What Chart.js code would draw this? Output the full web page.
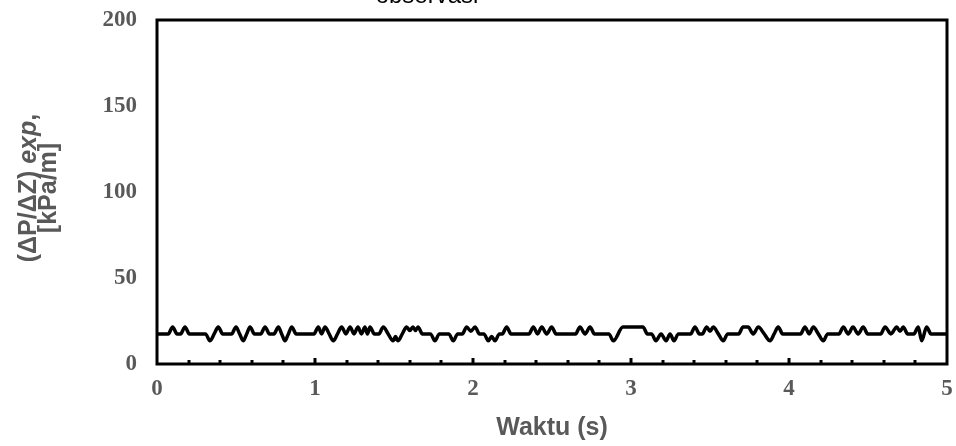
<!DOCTYPE html>
<html><head><meta charset="utf-8">
<script src="https://cdn.jsdelivr.net/npm/chart.js@4/dist/chart.umd.min.js"></script>
<style>html,body{margin:0;padding:0;background:#fff}#wrap{width:956px;height:446px;position:relative;overflow:hidden}</style>
</head><body><div id="wrap"><canvas id="c" width="956" height="446"></canvas></div>
<script>
// ---- data (vertex times in s, pressure gradient in kPa/m) ----
const times = [0,0.071,0.099,0.127,0.149,0.177,0.205,0.307,0.335,0.362,0.388,0.416,0.472,0.5,0.523,0.546,0.5675,0.589,0.617,0.656,0.684,0.712,0.74,0.768,0.789,0.81,0.8315,0.853,0.881,
0.993,1.021,1.042,1.063,1.0895,1.116,1.1425,1.169,1.1955,1.222,1.247,1.272,1.294,1.316,1.332,1.348,1.376,1.404,1.432,1.463,1.494,1.5095,1.525,1.5525,1.58,1.6,1.62,1.636,1.652,1.68,1.731,1.759,1.787,1.847,1.875,1.903,1.932,1.96,1.9865,
2.013,2.041,2.069,2.097,2.118,2.139,2.167,2.185,2.213,2.241,2.354,2.382,2.4085,2.435,2.4665,2.498,2.526,2.649,2.677,2.709,2.741,2.769,2.86,2.888,2.949,
3.076,3.104,3.13,3.158,3.19,3.222,3.247,3.272,3.3,3.377,3.405,3.433,3.451,3.479,3.5,3.521,3.5525,3.584,3.612,3.681,3.709,3.741,3.7735,3.806,3.843,3.88,3.906,3.932,3.96,
4.073,4.101,4.1275,4.154,4.1855,4.217,4.245,4.316,4.344,4.3745,4.405,4.4375,4.47,4.498,4.58,4.608,4.645,4.682,4.7025,4.723,4.751,4.79,4.818,4.84,4.871,4.899,5.0];
const values = [17.5,17.5,21.5,17.5,17.5,21.5,17.5,17.5,13.5,17.5,21.5,17.5,17.5,21.5,17.5,13.5,17.5,21.5,17.5,17.5,21.5,17.5,17.5,21.5,17.5,13.5,17.5,21.5,17.5,
17.5,21.5,17.5,21.5,17.5,13.5,17.5,21.5,17.5,21.5,17.5,21.5,17.5,21.5,17.5,21.5,17.5,17.5,21.5,17.5,13.5,16,13.5,17.5,21.5,19.5,21.5,19.5,21.5,17.5,17.5,13.5,17.5,17.5,13.5,17.5,17.5,21.5,19,
21.5,17.5,17.5,13.5,16,13.5,17.5,17.5,21.5,17.5,17.5,21.5,17.5,21.5,17.5,21.5,17.5,17.5,21.5,17.5,21.5,17.5,17.5,13.5,21.5,
21.5,17.5,17.5,13.5,17.5,13.5,17.5,13.5,17.5,17.5,21.5,17.5,17.5,21.5,19,21.5,17.5,13.5,17.5,17.5,21.5,21.5,17.5,21.5,17.5,13.5,17.5,21.5,17.5,
17.5,21.5,17.5,21.5,17.5,13.5,17.5,17.5,21.5,17.5,21.5,17.5,21.5,17.5,17.5,21.5,17.5,21.5,19,21.5,17.5,17.5,21.5,13.5,21.5,17.5,17.5];
const xMin = 0, xMax = 5, xStep = 0.2;
const yMin = 0, yMax = 200, yStep = 50;
const topTitle = 'observasi';
const xTitle = 'Waktu (s)';
const yTitleParts = ['(\u0394P/\u0394Z) ', 'exp', ','];
const yTitleLine2 = '[kPa/m]';

const grey = '#595959';
const decor = {
  id: 'decor',
  afterDraw(chart) {
    const {ctx, chartArea: a, scales: {x}} = chart;
    ctx.save();
    ctx.fillStyle = '#000';
    x.ticks.forEach(t => {
      const px = x.getPixelForValue(t.value);
      if (px <= a.left + 2 || px >= a.right - 2) return;
      const major = Math.abs(t.value - Math.round(t.value)) < 1e-6;
      const h = major ? 6 : 4;
      ctx.fillRect(Math.round(px) - 1.5, a.bottom - h, 3, h);
    });
    ctx.strokeStyle = '#000';
    ctx.lineWidth = 3;
    ctx.strokeRect(a.left, a.top, a.width, a.height);
    ctx.fillStyle = '#000';
    ctx.font = '24px "Liberation Sans", Arial, sans-serif';
    ctx.textAlign = 'center';
    ctx.textBaseline = 'alphabetic';
    ctx.fillText(topTitle, 427, 3);
    ctx.fillStyle = grey;
    ctx.translate(29, 188);
    ctx.rotate(-Math.PI / 2);
    ctx.textBaseline = 'middle';
    ctx.textAlign = 'left';
    const fonts = ['bold 25px "Liberation Sans", Arial, sans-serif', 'italic bold 25px "Liberation Sans", Arial, sans-serif', 'bold 25px "Liberation Sans", Arial, sans-serif'];
    let total = 0;
    const widths = yTitleParts.map((p, i) => { ctx.font = fonts[i]; const w = ctx.measureText(p).width; total += w; return w; });
    let cx = -total / 2;
    yTitleParts.forEach((p, i) => { ctx.font = fonts[i]; ctx.fillText(p, cx, 0); cx += widths[i]; });
    ctx.font = fonts[0];
    ctx.textAlign = 'center';
    ctx.fillText(yTitleLine2, 0, 20);
    ctx.restore();
  }
};

new Chart(document.getElementById('c'), {
  type: 'line',
  data: {
    datasets: [{
      data: times.map((t, i) => ({x: t, y: values[i]})),
      borderColor: '#000',
      borderWidth: 3.5,
      pointRadius: 0,
      cubicInterpolationMode: 'monotone',
      fill: false
    }]
  },
  options: {
    responsive: false,
    animation: false,
    layout: {padding: {left: 0, right: 9, top: 20, bottom: 0}},
    plugins: {legend: {display: false}, tooltip: {enabled: false}, title: {display: false}},
    scales: {
      x: {
        type: 'linear', min: xMin, max: xMax,
        afterFit(s) { s.height = 82; s.paddingLeft = 0; s.paddingRight = 0; },
        grid: {display: false}, border: {display: false},
        ticks: {
          stepSize: xStep, autoSkip: false, maxRotation: 0, padding: 3, color: grey,
          font: {family: '"Liberation Serif", "Times New Roman", serif', weight: 'bold', size: 23},
          callback: v => Math.abs(v - Math.round(v)) < 1e-6 ? String(Math.round(v)) : ''
        },
        title: {display: true, text: xTitle, color: grey, padding: {top: 0, bottom: 3},
          font: {family: '"Liberation Sans", Arial, sans-serif', weight: 'bold', size: 25}}
      },
      y: {
        min: yMin, max: yMax,
        afterFit(s) { s.width = 157; s.paddingTop = 0; s.paddingBottom = 0; },
        grid: {display: false}, border: {display: false},
        ticks: {stepSize: yStep, padding: 12, color: grey,
          font: {family: '"Liberation Serif", "Times New Roman", serif', weight: 'bold', size: 23}}
      }
    }
  },
  plugins: [decor]
});
</script></body></html>
